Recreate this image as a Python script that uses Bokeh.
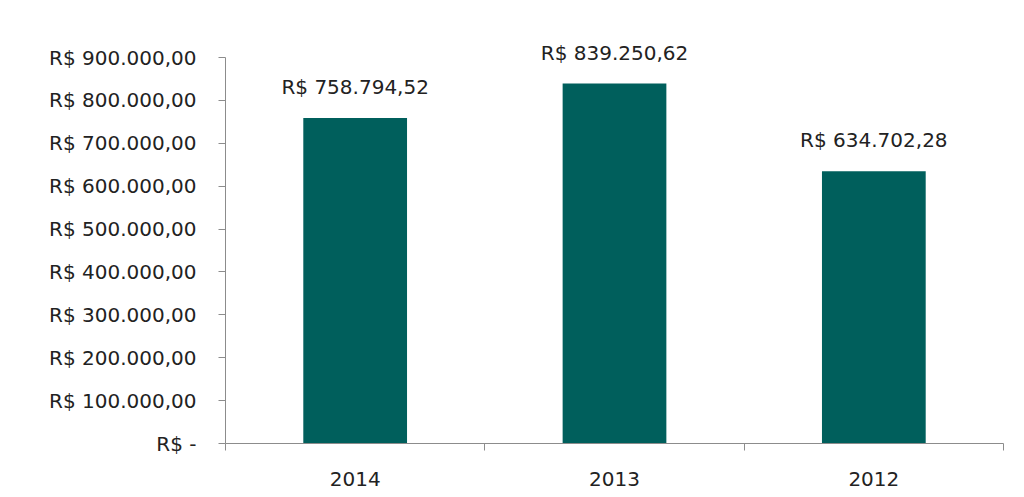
from bokeh.plotting import figure
from bokeh.models import FixedTicker, Range1d, ColumnDataSource
from bokeh.embed import file_html
from bokeh.resources import INLINE
from bokeh.core.properties import value

years = ["2014", "2013", "2012"]
revenue = [758794.52, 839250.62, 634702.28]
value_labels = ["R$ 758.794,52", "R$ 839.250,62", "R$ 634.702,28"]
y_ticks = [0, 100000, 200000, 300000, 400000, 500000, 600000, 700000, 800000, 900000]
y_tick_labels = ["R$ -", "R$ 100.000,00", "R$ 200.000,00", "R$ 300.000,00", "R$ 400.000,00",
                 "R$ 500.000,00", "R$ 600.000,00", "R$ 700.000,00", "R$ 800.000,00", "R$ 900.000,00"]
y_max = 900000

xpos = [i + 0.5 for i in range(len(years))]
src = ColumnDataSource(dict(x=xpos, top=revenue, label=value_labels))

FONT = "DejaVu Sans"
FS = "20px"

# layout (pixels): frame bottom at 443, y_max at 57; extra room above for the labels
plot_h = 443 - 57
top_border = 20
y_end = y_max * (443 - top_border) / plot_h

p = figure(width=1016, height=489, output_backend="svg", toolbar_location=None,
           x_range=Range1d(0, len(years)), y_range=Range1d(0, y_end),
           min_border_left=225, min_border_right=13, min_border_top=top_border, min_border_bottom=46)
p.xgrid.visible = False
p.ygrid.visible = False
p.outline_line_color = None
p.background_fill_color = "white"
p.border_fill_color = "white"

p.vbar(x="x", top="top", width=0.4, bottom=0, source=src, fill_color="#005f5c", line_color=None)
p.text(x="x", y="top", text="label", source=src, text_align="center", text_baseline="bottom",
       y_offset=-19, text_font=value(FONT), text_font_size=FS, text_color="#222222")

# y axis
p.yaxis.ticker = FixedTicker(ticks=y_ticks)
p.yaxis.bounds = (0, y_max)
p.yaxis.major_label_overrides = {t: l for t, l in zip(y_ticks, y_tick_labels)}
p.yaxis.major_label_text_font = FONT
p.yaxis.major_label_text_font_size = FS
p.yaxis.major_label_text_color = "#222222"
p.yaxis.major_label_standoff = 22
p.yaxis.major_tick_in = 0
p.yaxis.major_tick_out = 7
p.yaxis.minor_tick_line_color = None
p.yaxis.axis_line_color = "#8c8c8c"
p.yaxis.major_tick_line_color = "#8c8c8c"

# x axis: labels at category centres, ticks at category boundaries
p.xaxis.ticker = FixedTicker(ticks=xpos, minor_ticks=list(range(len(years) + 1)))
p.xaxis.major_label_overrides = {x: y for x, y in zip(xpos, years)}
p.xaxis.major_tick_line_color = None
p.xaxis.minor_tick_in = 0
p.xaxis.minor_tick_out = 7
p.xaxis.minor_tick_line_color = "#8c8c8c"
p.xaxis.axis_line_color = "#8c8c8c"
p.xaxis.major_label_text_font = FONT
p.xaxis.major_label_text_font_size = FS
p.xaxis.major_label_text_color = "#222222"
p.xaxis.major_label_standoff = 21

open("out.html", "w").write(file_html(p, INLINE))
